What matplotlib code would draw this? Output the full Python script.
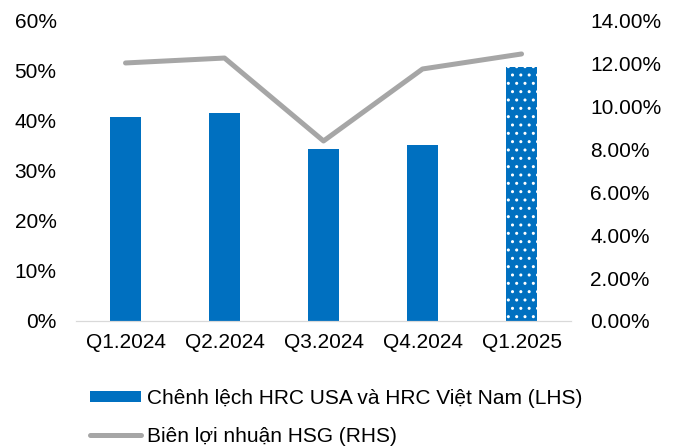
import matplotlib.pyplot as plt
from matplotlib.ticker import FuncFormatter
from matplotlib.patches import Patch
from matplotlib.lines import Line2D
import numpy as np

plt.rcParams['font.family'] = ['Liberation Sans', 'DejaVu Sans']
plt.rcParams['font.size'] = 15
plt.rcParams['hatch.color'] = 'white'
plt.rcParams['hatch.linewidth'] = 1.0

quarters = ['Q1.2024', 'Q2.2024', 'Q3.2024', 'Q4.2024', 'Q1.2025']
spread = [40.8, 41.6, 34.4, 35.2, 50.8]        # % (LHS)
margin = [12.04, 12.27, 8.40, 11.76, 12.46]    # % (RHS)

bar_color = '#0070C0'
line_color = '#A6A6A6'

fig = plt.figure(figsize=(6.75, 4.46), dpi=100)
ax = fig.add_axes([0.1126, 0.2803, 0.7334, 0.6727])
ax2 = ax.twinx()

x = np.arange(len(quarters))
bars = ax.bar(x, spread, width=0.32, color=bar_color, zorder=2)
# last bar is a forecast -> dotted fill
bars[-1].set_hatch('..')
bars[-1].set_edgecolor('white')
bars[-1].set_linewidth(0)

ax2.plot(x, margin, color=line_color, lw=3.6, solid_capstyle='round', zorder=3)

ax.set_xlim(-0.5, len(quarters) - 0.5)
ax.set_ylim(0, 60)
ax.set_yticks(range(0, 61, 10))
ax.yaxis.set_major_formatter(FuncFormatter(lambda v, p: f'{v:.0f}%'))
ax2.set_ylim(0, 14)
ax2.set_yticks(np.arange(0, 14.1, 2))
ax2.yaxis.set_major_formatter(FuncFormatter(lambda v, p: f'{v:.2f}%'))

ax.set_xticks(x)
ax.set_xticklabels(quarters)

for a in (ax, ax2):
    for s in ('top', 'left', 'right'):
        a.spines[s].set_visible(False)
    a.spines['bottom'].set_color('#D9D9D9')
    a.tick_params(length=0)
ax.tick_params(axis='y', pad=14)
ax2.tick_params(axis='y', pad=14)
ax.tick_params(axis='x', pad=9)

handles = [Patch(facecolor=bar_color, edgecolor='none'),
           Line2D([0], [0], color=line_color, lw=3.6, solid_capstyle='round')]
labels = ['Chênh lệch HRC USA và HRC Việt Nam (LHS)', 'Biên lợi nhuận HSG (RHS)']
fig.legend(handles, labels, loc='upper left', bbox_to_anchor=(0.134, 0.128),
           frameon=False, handlelength=2.45, handleheight=0.5, handletextpad=0.25,
           labelspacing=0.9, borderaxespad=0, borderpad=0)

fig.savefig('out.png', dpi=100)
